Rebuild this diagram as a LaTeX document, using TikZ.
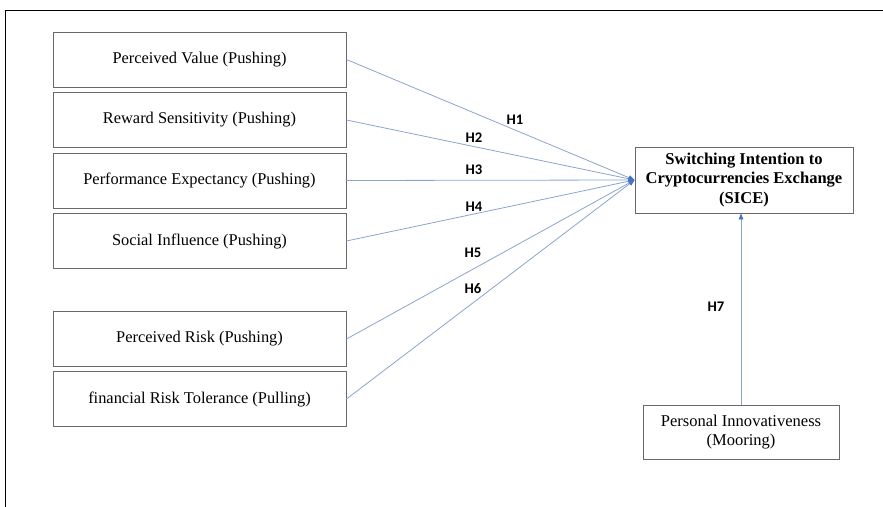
\documentclass[tikz,border=0pt]{standalone}
\usepackage{fontspec}
\setmainfont{Liberation Serif}
\newfontfamily\hfont{Carlito}
\usetikzlibrary{arrows.meta}
\definecolor{boxgray}{RGB}{105,105,105}
\definecolor{linkblue}{RGB}{140,163,205}
\definecolor{tipblue}{RGB}{68,114,196}
\tikzset{
  leftbox/.style={draw=boxgray, line width=0.7pt, minimum width=219.75pt, minimum height=41.25pt, inner sep=0pt, font=\fontsize{12.3}{14}\selectfont},
  tgtbox/.style={draw=boxgray, line width=0.7pt, minimum width=163.5pt, minimum height=49.5pt, inner sep=0pt, align=center, font=\fontsize{12.4}{14.3}\selectfont\bfseries},
  botbox/.style={draw=boxgray, line width=0.7pt, minimum width=147pt, minimum height=40.5pt, inner sep=0pt, align=center, font=\fontsize{12.4}{14.5}\selectfont},
  link/.style={draw=linkblue, line width=0.6pt, -{Triangle[length=4.5pt,width=3.5pt,color=tipblue]}},
  hlabel/.style={font=\hfont\bfseries\fontsize{11}{12}\selectfont, inner sep=0pt}
}
\begin{document}
\begin{tikzpicture}[x=0.75pt,y=-0.75pt]
\useasboundingbox (0,0) rectangle (883,507);
\draw[line width=1.2pt] (5.5,507) -- (5.5,10.5) -- (883,10.5);
\node[leftbox] (pv) at (199.5,59.5) {Perceived Value (Pushing)};
\node[leftbox] (rs) at (199.5,120) {Reward Sensitivity (Pushing)};
\node[leftbox] (pe) at (199.5,180.5) {Performance Expectancy (Pushing)};
\node[leftbox] (si) at (199.5,241) {Social Influence (Pushing)};
\node[leftbox] (pr) at (199.5,339) {Perceived Risk (Pushing)};
\node[leftbox] (fr) at (199.5,399) {financial Risk Tolerance (Pulling)};
\node[tgtbox] (sice) at (744,180) {Switching Intention to\\Cryptocurrencies Exchange\\(SICE)};
\node[botbox] (pi) at (741,432) {Personal Innovativeness\\(Mooring)};
\draw[link] (pv.east) -- (sice.west);
\draw[link] (rs.east) -- (sice.west);
\draw[link] (pe.east) -- (sice.west);
\draw[link] (si.east) -- (sice.west);
\draw[link] (pr.east) -- (sice.west);
\draw[link] (fr.east) -- (sice.west);
\draw[link] (pi.north) -- (pi.north |- sice.south);
\node[hlabel] (h1) at (515,120) {H1};
\node[hlabel] (h2) at (474,138) {H2};
\node[hlabel] (h3) at (474,170) {H3};
\node[hlabel] (h4) at (474,207) {H4};
\node[hlabel] (h5) at (473,253) {H5};
\node[hlabel] (h6) at (473,289) {H6};
\node[hlabel] (h7) at (716,307) {H7};
\end{tikzpicture}
\end{document}
